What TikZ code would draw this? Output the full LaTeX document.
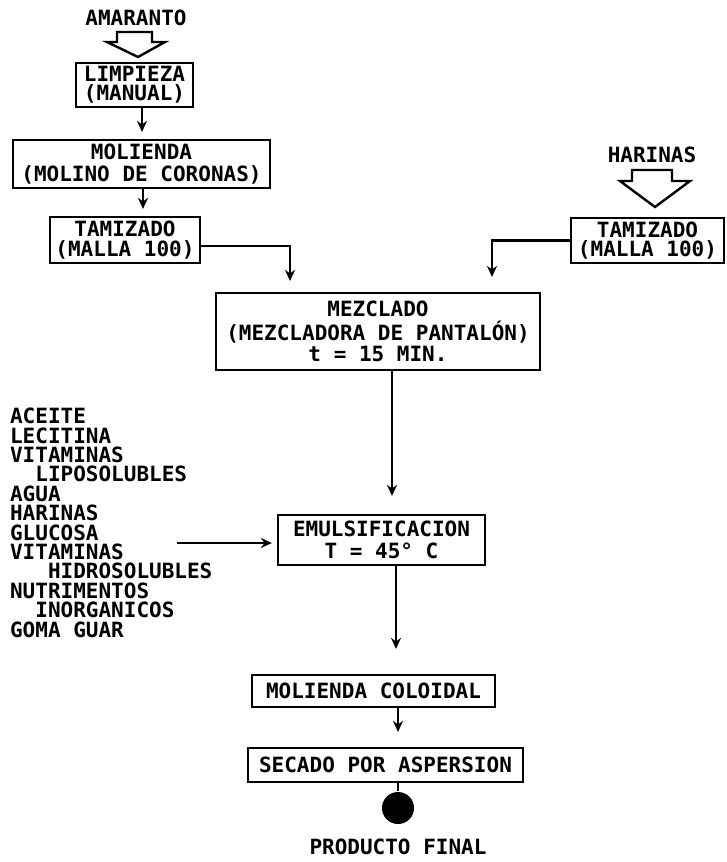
\documentclass[tikz,border=0pt]{standalone}
\usepackage{fontspec}
\newfontfamily\plotter{DejaVu Sans Mono}
\usepackage{tikz}
\usetikzlibrary{arrows,arrows.meta}

\begin{document}
\begin{tikzpicture}[x=1pt,y=-1pt,>={Stealth[length=11pt,width=10pt]},line width=2.2pt,
      font=\plotter\bfseries\fontsize{21}{19.4}\selectfont,
      proc/.style={draw,rectangle,inner sep=0pt,align=center},
      flow/.style={->,shorten >=7pt},
      hollow/.style={line width=2.4pt,line join=miter}]
      \useasboundingbox (0,0) rectangle (726,862);
      % entradas
      \node (ama) at (136,18) {AMARANTO};
      \draw[hollow] (117,32) -- (117,42) -- (107,42) -- (138,57) -- (165,42) -- (152,42) -- (152,32) -- cycle;
      \node (har) at (652,155) {HARINAS};
      \draw[hollow] (632,170) -- (632,181) -- (620,181) -- (655,207) -- (690,181) -- (672,181) -- (672,170) -- cycle;
      % proceso
      \node[proc,minimum width=117pt,minimum height=44pt] (limp) at (134.5,85) {LIMPIEZA\\(MANUAL)};
      \node[proc,minimum width=257pt,minimum height=48pt] (mol) at (141.5,164) {MOLIENDA\\[3pt](MOLINO DE CORONAS)};
      \node[proc,minimum width=150pt,minimum height=46pt] (tamL) at (125,240) {TAMIZADO\\(MALLA 100)};
      \node[proc,minimum width=153pt,minimum height=45pt] (tamR) at (647.5,240.5) {TAMIZADO\\(MALLA 100)};
      \node[proc,minimum width=324pt,minimum height=77pt] (mez) at (378,331.5) {MEZCLADO\\[3pt](MEZCLADORA DE PANTALÓN)\\[2pt]t = 15 MIN.};
      \node[proc,minimum width=207pt,minimum height=50pt] (emul) at (381.5,540) {EMULSIFICACION\\[2pt]T = 45° C};
      \node[proc,minimum width=243pt,minimum height=32pt] (col) at (373.5,691) {MOLIENDA COLOIDAL};
      \node[proc,minimum width=275pt,minimum height=34pt] (sec) at (385.5,765) {SECADO POR ASPERSION};
      \node[circle,fill,inner sep=0pt,minimum size=32pt] (fin) at (398,808) {};
      \node (prod) at (398,847) {PRODUCTO FINAL};
      % ingredientes
      \node[align=left,anchor=north west,inner sep=0pt] (lista) at (9,407)
        {ACEITE\\LECITINA\\VITAMINAS\\\phantom{XX}LIPOSOLUBLES\\AGUA\\HARINAS\\GLUCOSA\\VITAMINAS\\
         \phantom{XXX}HIDROSOLUBLES\\NUTRIMENTOS\\\phantom{XX}INORGANICOS\\GOMA GUAR};
      \coordinate (ing) at (177,543);
      % conexiones
      \draw[flow] ([xshift=7.5pt]limp.south) -- ([xshift=0.5pt]mol.north);
      \draw[flow] ([xshift=1.5pt]mol.south) -- ([xshift=18pt]tamL.north);
      \draw[flow,shorten >=11pt] ([yshift=-6pt]tamL.east) -| ([xshift=-88pt]mez.north);
      \draw[flow,shorten >=15pt] (tamR.west) -| ([xshift=114pt]mez.north);
      \draw[flow,shorten >=18pt] ([xshift=14pt]mez.south) -- ([xshift=10.5pt]emul.north);
      \draw[flow,shorten >=5pt] (ing) -- (ing -| emul.west);
      \draw[flow,shorten >=25pt] ([xshift=14.5pt]emul.south) -- ([xshift=22.5pt]col.north);
      \draw[flow,shorten >=15pt] ([xshift=24.5pt]col.south) -- ([xshift=12.5pt]sec.north);
      \draw ([xshift=12.5pt]sec.south) -- (fin);
\end{tikzpicture}
\end{document}
